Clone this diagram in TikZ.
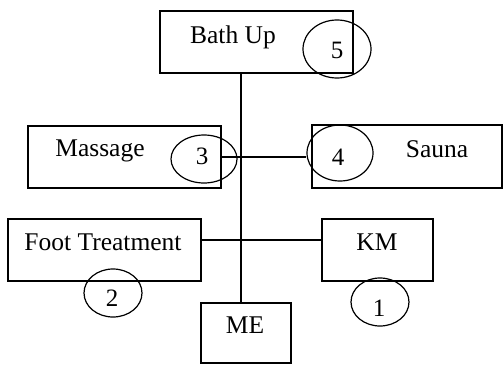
\documentclass[tikz,border=0pt]{standalone}
\usepackage{fontspec}
\setmainfont{Liberation Serif}
\usetikzlibrary{shapes.geometric}
\begin{document}
\begin{tikzpicture}[x=1pt,y=-1pt,
  box/.style={draw, rectangle, line width=1.2pt, inner sep=0pt, minimum width=#1},
  box/.default=193pt,
  ring/.style={draw, ellipse, line width=1.2pt, inner sep=0pt},
  word/.style={anchor=base, inner sep=0pt, font=\fontsize{25.5}{30}\selectfont},
  digit/.style={anchor=base, inner sep=0pt, font=\fontsize{25}{29}\selectfont},
  link/.style={line width=1.2pt}]
\useasboundingbox (0,0) rectangle (503,364);

% boxes
\node[box, minimum height=62pt] (bath) at (256.5,42) {};
\node[box, minimum height=62pt] (massage) at (124.5,157) {};
\node[box=190pt, minimum height=63pt] (sauna) at (407,156.5) {};
\node[box, minimum height=62pt] (foot) at (104.5,250) {};
\node[box=111pt, minimum height=62pt] (km) at (377.5,250) {};
\node[box=90pt, minimum height=60pt] (me) at (246,333) {};

% box captions
\node[word] (tbath) at (233,43) {Bath Up};
\node[word] (tmassage) at (100,156) {Massage};
\node[word] (tsauna) at (437,157) {Sauna};
\node[word] (tfoot) at (103,250) {Foot Treatment};
\node[word] (tkm) at (377,250) {KM};
\node[word] (tme) at (245,333) {ME};

% numbered rings
\node[ring, minimum width=68pt, minimum height=58pt] (c5) at (337,49) {};
\node[ring, minimum width=66pt, minimum height=48pt] (c3) at (204,159) {};
\node[ring, minimum width=66pt, minimum height=56pt] (c4) at (340,153) {};
\node[ring, minimum width=58pt, minimum height=48pt] (c2) at (113,293) {};
\node[ring, minimum width=58pt, minimum height=48pt] (c1) at (380,302) {};

\node[digit] (n5) at (337,58) {5};
\node[digit] (n3) at (202,164) {3};
\node[digit] (n4) at (338,165) {4};
\node[digit] (n2) at (112,306) {2};
\node[digit] (n1) at (379,316) {1};

% connectors
\coordinate (spine) at (241,0);
\draw[link] (bath.south -| spine) -- (me.north -| spine);
\draw[link] (massage.east) -- (massage.east -| c4.west);
\draw[link] ([yshift=10pt]foot.east) -- ([yshift=10pt]foot.east -| km.west);
\end{tikzpicture}
\end{document}
